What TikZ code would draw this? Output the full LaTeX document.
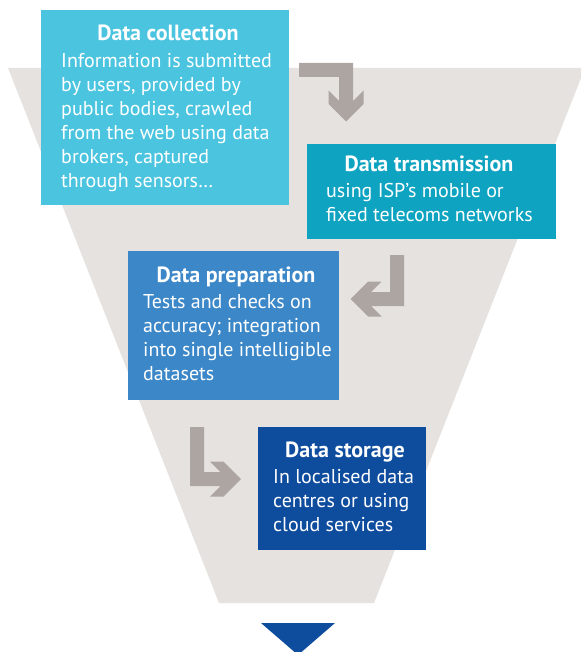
\documentclass[tikz,border=0pt]{standalone}
\usepackage{fontspec}
\setmainfont{PT Sans}
\definecolor{funnelgrey}{HTML}{E6E2DF}
\definecolor{arrowgrey}{HTML}{ADA5A1}
\definecolor{collectblue}{HTML}{4BC4E0}
\definecolor{transmitteal}{HTML}{0EA3C1}
\definecolor{prepareblue}{HTML}{3B87C8}
\definecolor{storeblue}{HTML}{0E4C9E}
\begin{document}
\begin{tikzpicture}[x=1pt,y=-1pt,
  stagebox/.style={fill=#1, draw=none, inner sep=0pt, anchor=north west},
  stagetitle/.style={text=white, inner sep=0pt, anchor=base,
    font=\bfseries\fontsize{22pt}{24pt}\selectfont},
  stagebody/.style={text=white, inner sep=0pt, anchor=base west,
    font=\fontsize{20pt}{24pt}\selectfont},
  turnarrow/.style={fill=arrowgrey, draw=none}]
\useasboundingbox (0,0) rectangle (581,652);
\clip (0,0) rectangle (581,652);

% funnel background
\fill[funnelgrey] (8,68) -- (585,68) -- (374,603) -- (219,603) -- cycle;

% output marker below the funnel
\fill[storeblue] (261,623) -- (335,623) -- (298,655) -- cycle;

% stage boxes
\node[stagebox=collectblue, minimum width=248pt, minimum height=195pt] (collect) at (41,10) {};
\node[stagebox=transmitteal, minimum width=249pt, minimum height=95pt] (transmit) at (307,144) {};
\node[stagebox=prepareblue, minimum width=211pt, minimum height=149pt] (prepare) at (128,251) {};
\node[stagebox=storeblue, minimum width=168pt, minimum height=123pt] (store) at (258,427) {};

% bent arrows between the stages
\fill[turnarrow] (299,63) -- (353,63) -- (353,101) -- (363.5,90.5) -- (363.5,104)
  -- (346,121.5) -- (328.5,104) -- (328.5,90.5) -- (339,101) -- (339,77) -- (299,77) -- cycle;
\fill[turnarrow] (350.5,299) -- (368,281.5) -- (381.5,281.5) -- (371,292) -- (390,292)
  -- (390,255) -- (404,255) -- (404,306) -- (371,306) -- (381.5,316.5) -- (368,316.5) -- cycle;
\fill[turnarrow] (190,427) -- (204,427) -- (204,472) -- (220.5,472) -- (210,461.5)
  -- (223.5,461.5) -- (241,479) -- (223.5,496.5) -- (210,496.5) -- (220.5,486) -- (190,486) -- cycle;

% texts
\node[stagetitle] (collect-title) at (168,41) {Data collection};
\node[stagebody] (collect-body) at (61,68) {\parbox[t]{225pt}{\raggedright
  Information is submitted\\ by users, provided by\\ public bodies, crawled\\
  from the web using data\\ brokers, captured\\ through sensors…}};

\node[stagetitle] (transmit-title) at (429,172) {Data transmission};
\node[stagebody] (transmit-body) at (326,198) {\parbox[t]{225pt}{\raggedright
  using ISP’s mobile or\\ fixed telecoms networks}};

\node[stagetitle] (prepare-title) at (236,282) {Data preparation};
\node[stagebody] (prepare-body) at (143,308) {\parbox[t]{195pt}{\raggedright
  Tests and checks on\\ accuracy; integration\\ into single intelligible\\ datasets}};

\node[stagetitle] (store-title) at (345,457) {Data storage};
\node[stagebody] (store-body) at (273,483) {\parbox[t]{150pt}{\raggedright
  In localised data\\ centres or using\\ cloud services}};
\end{tikzpicture}
\end{document}
